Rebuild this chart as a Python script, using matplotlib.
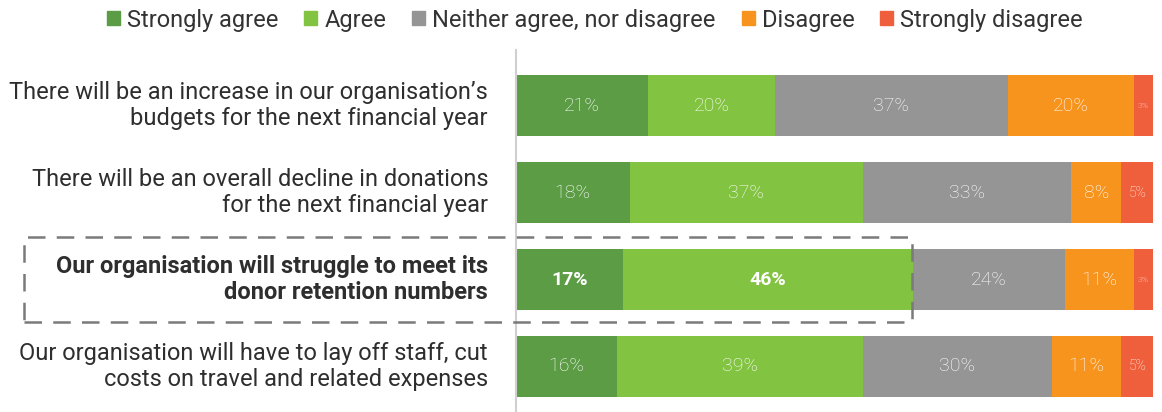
import matplotlib.pyplot as plt
from matplotlib.patches import Patch, Rectangle

# Survey statements and response shares (%)
statements = [
    "There will be an increase in our organisation\u2019s\nbudgets for the next financial year",
    "There will be an overall decline in donations\nfor the next financial year",
    "Our organisation will struggle to meet its\ndonor retention numbers",
    "Our organisation will have to lay off staff, cut\ncosts on travel and related expenses",
]
responses = ["Strongly agree", "Agree", "Neither agree, nor disagree",
             "Disagree", "Strongly disagree"]
strongly_agree = [21, 18, 17, 16]
agree = [20, 37, 46, 39]
neither = [37, 33, 24, 30]
disagree = [20, 8, 11, 11]
strongly_disagree = [3, 5, 3, 5]

colors = ["#5b9c45", "#82c341", "#959595", "#f7941e", "#f05f3b"]
highlight_row = 2

plt.rcParams['font.family'] = ['Roboto', 'DejaVu Sans']

fig = plt.figure(figsize=(11.62, 4.12), dpi=100)
ax = fig.add_axes([516 / 1162, 0, (1153 - 516) / 1162, 362 / 412])

series = [strongly_agree, agree, neither, disagree, strongly_disagree]
rows = range(len(statements))
left = [0] * len(statements)
for s, vals in enumerate(series):
    ax.barh(rows, vals, left=left, height=0.7, color=colors[s], edgecolor='none')
    for r in rows:
        v = vals[r]
        if v <= 3:
            size = 6
        elif v <= 5:
            size = 10
        else:
            size = 14
        bold = (r == highlight_row and s < 2)
        ax.text(left[r] + v / 2, r, f"{v}%", ha='center', va='center',
                color='white', fontsize=size,
                fontweight='bold' if bold else 'light')
    left = [a + b for a, b in zip(left, vals)]

ax.set_xlim(0, 101)
ax.set_ylim(3.523, -0.638)
ax.set_xticks([])
ax.set_yticks([])
for side in ['top', 'right', 'bottom']:
    ax.spines[side].set_visible(False)
ax.spines['left'].set_color('#d0d0d0')
ax.spines['left'].set_linewidth(1.5)

# statement labels to the left of the bars
for r, text in enumerate(statements):
    ax.annotate(text, xy=(0, r), xytext=(-28, 0), textcoords='offset pixels',
                ha='right', va='center', fontsize=17, color='#2e2e2e',
                linespacing=1.15,
                fontweight='bold' if r == highlight_row else 'normal')

# dashed box around the highlighted statement
fig.patches.append(Rectangle((24 / 1162, 1 - 322 / 412), 888 / 1162, 85 / 412,
                             transform=fig.transFigure, fill=False,
                             edgecolor='#7a7a7a', linewidth=1.8,
                             linestyle=(0, (7, 4.5)), zorder=5))

handles = [Patch(color=c, label=l) for c, l in zip(colors, responses)]
fig.legend(handles=handles, loc='center', bbox_to_anchor=(595 / 1162, 1 - 20 / 412),
           ncol=5, frameon=False, fontsize=17, handlelength=0.55,
           handleheight=0.55, handletextpad=0.3, columnspacing=1.1,
           labelcolor='#333333')

fig.savefig('out.png', dpi=100)
